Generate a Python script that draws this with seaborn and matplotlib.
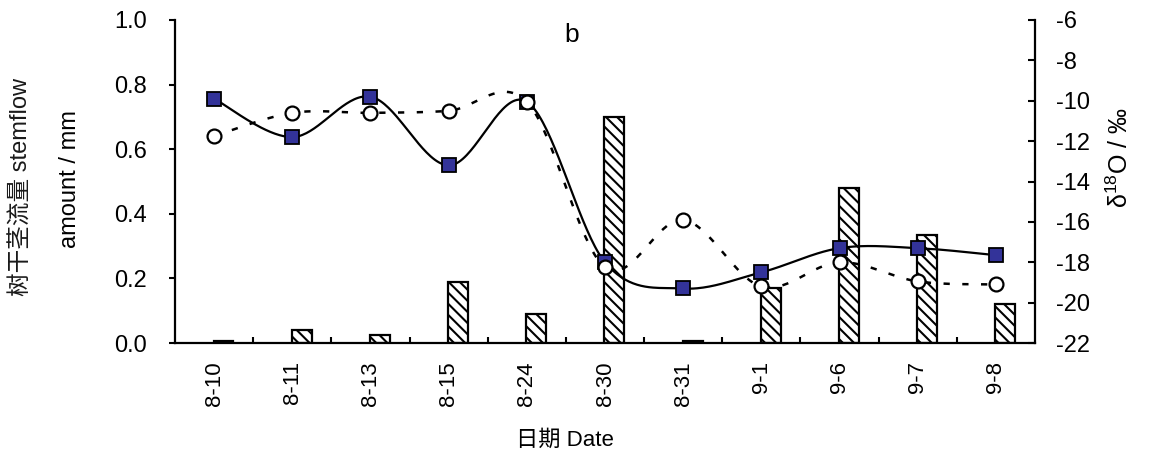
import numpy as np
import pandas as pd
import matplotlib
matplotlib.use("Agg")
import matplotlib.pyplot as plt
from matplotlib.ticker import FixedLocator, FormatStrFormatter
import seaborn as sns

# Sampling dates
dates = ["8-10", "8-11", "8-13", "8-15", "8-24", "8-30", "8-31", "9-1", "9-6", "9-7", "9-8"]
# Stemflow amount (mm), left axis
stemflow_mm = [0.005, 0.04, 0.025, 0.19, 0.09, 0.70, 0.005, 0.17, 0.48, 0.335, 0.12]
# δ18O of the two water series (‰), right axis
d18o_solid = [-9.9, -11.8, -9.8, -13.2, -10.05, -18.0, -19.3, -18.5, -17.3, -17.3, -17.65]
d18o_open = [-11.75, -10.6, -10.6, -10.5, -10.05, -18.25, -15.9, -19.2, -18.0, -18.95, -19.1]

sns.set_style("ticks")
plt.rcParams["font.family"] = ["Liberation Sans", "Noto Sans CJK SC", "DejaVu Sans"]
plt.rcParams["mathtext.fontset"] = "custom"
plt.rcParams["mathtext.rm"] = "Liberation Sans"
plt.rcParams["axes.unicode_minus"] = False
plt.rcParams["hatch.linewidth"] = 1.5
plt.rcParams["hatch.color"] = "black"
for key in ("text.color", "axes.labelcolor", "xtick.color", "ytick.color", "axes.edgecolor"):
    plt.rcParams[key] = "black"

W, H = 1153, 459
fig = plt.figure(figsize=(W / 100, H / 100), dpi=100)
ax = fig.add_axes([175 / W, 1 - 343 / H, (1035 - 175) / W, (343 - 20) / H])
ax2 = ax.twinx()

pos = np.arange(len(dates))


def smooth_curve(x, y, n=40):
    """Piecewise cubic Bezier through the points (Catmull-Rom style smoothing)."""
    x = np.asarray(x, float)
    y = np.asarray(y, float)
    xs, ys = [], []
    m = len(x)
    for i in range(m - 1):
        i0 = max(i - 1, 0)
        i3 = min(i + 2, m - 1)
        bx = [x[i], x[i] + (x[i + 1] - x[i0]) / 6, x[i + 1] - (x[i3] - x[i]) / 6, x[i + 1]]
        by = [y[i], y[i] + (y[i + 1] - y[i0]) / 6, y[i + 1] - (y[i3] - y[i]) / 6, y[i + 1]]
        t = np.linspace(0, 1, n)
        c = [(1 - t) ** 3, 3 * (1 - t) ** 2 * t, 3 * (1 - t) * t ** 2, t ** 3]
        xs.append(sum(ci * b for ci, b in zip(c, bx)))
        ys.append(sum(ci * b for ci, b in zip(c, by)))
    return np.concatenate(xs), np.concatenate(ys)


# Stemflow bars (hatched), slightly right of each date
bars = pd.DataFrame({"pos": pos + 0.12, "amount": stemflow_mm})
sns.barplot(data=bars, x="pos", y="amount", native_scale=True, orient="x",
            width=0.255, color="white", saturation=1, edgecolor="black",
            linewidth=1.6, errorbar=None, ax=ax)
for p in ax.patches:
    p.set_hatch("\\\\\\")
    p.set_facecolor("white")

# δ18O lines on the right axis
sx, sy = smooth_curve(pos, d18o_solid)
ax2.plot(sx, sy, color="black", lw=1.6, zorder=3)
ax2.plot(pos, d18o_solid, ls="none", marker="s", ms=10, mfc="#333399",
         mec="black", mew=1.3, zorder=4)
ox, oy = smooth_curve(pos, d18o_open)
ax2.plot(ox, oy, color="black", lw=1.8, ls=(0, (2.5, 5)), zorder=5)
ax2.plot(pos, d18o_open, ls="none", marker="o", ms=10, mfc="white",
         mec="black", mew=1.6, zorder=6)

# Axes limits and ticks
ax.set_xlim(-0.5, len(dates) - 0.5)
ax.set_ylim(0, 1.0)
ax2.set_ylim(-22, -6)
ax.set_xticks(pos)
ax.set_xticklabels(dates, rotation=90, fontsize=16)
ax.xaxis.set_minor_locator(FixedLocator(pos[:-1] + 0.5))
ax.tick_params(axis="x", which="major", length=0, pad=13)
ax.tick_params(axis="x", which="minor", direction="in", length=4, width=1.5)
ax.set_yticks(np.arange(0, 1.01, 0.2))
ax.yaxis.set_major_formatter(FormatStrFormatter("%.1f"))
ax.tick_params(axis="y", direction="out", length=4, width=1.5, pad=16, labelsize=17)
ax2.set_yticks(np.arange(-22, -5, 2))
ax2.tick_params(axis="y", direction="in", length=5, width=1.5, pad=15, labelsize=17)
ax.set_xlabel("")
ax.set_ylabel("")

for a in (ax, ax2):
    a.spines["top"].set_visible(False)
    for s in ("left", "right", "bottom"):
        a.spines[s].set_linewidth(1.6)
ax.spines["right"].set_visible(False)
ax2.spines["left"].set_visible(False)
ax2.spines["bottom"].set_visible(False)

# Panel letter
ax.text(0.4616, 0.954, "b", transform=ax.transAxes, ha="center", va="center", fontsize=19)

# Axis titles
fig.text(22 / W, 1 - 187 / H, "树干茎流量 stemflow", rotation=90, ha="center",
         va="center", fontsize=17, color="#1a1a1a")
fig.text(70 / W, 1 - 179 / H, "amount / mm", rotation=90, ha="center",
         va="center", fontsize=17)
fig.text(1120 / W, 1 - 158 / H, "δ$^{18}$O / ‰", rotation=90, ha="center",
         va="center", fontsize=18)
fig.text(565 / W, 1 - 440 / H, "日期 Date", ha="center", va="center", fontsize=16)

fig.savefig("out.png", dpi=100)
